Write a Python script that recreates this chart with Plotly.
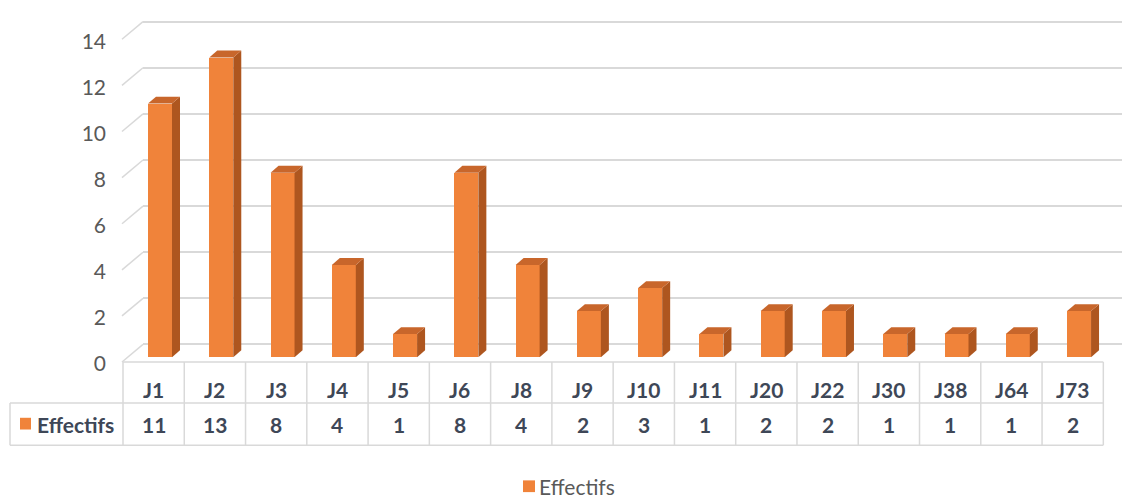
import plotly.graph_objects as go

# ---- data -------------------------------------------------------------
categories = ["J1", "J2", "J3", "J4", "J5", "J6", "J8", "J9", "J10", "J11",
              "J20", "J22", "J30", "J38", "J64", "J73"]
effectifs = [11, 13, 8, 4, 1, 8, 4, 2, 3, 1, 2, 2, 1, 1, 1, 2]
series_name = "Effectifs"
y_ticks = [0, 2, 4, 6, 8, 10, 12, 14]

# ---- geometry (pixels) ------------------------------------------------
W, H = 1122, 501
UNIT = 23.57          # px per unit on the value axis
COL = 61.27           # px per category
BAR_CX0 = 160         # centre of first bar front face
BAR_W_PX = 24
DEPTH_X, DEPTH_Y = 8, 7

FRONT_ZERO, FRONT_LEFT = 363, 123   # front edge of the floor
BAR_ZERO = 358                      # plane in which the bars stand
BACK_ZERO, BACK_LEFT = 345, 143     # back wall

TABLE_MID, TABLE_BOTTOM, HEADER_LEFT = 405, 448, 10
TABLE_RIGHT = FRONT_LEFT + COL * len(categories)

FRONT = "#F0833A"
SIDE = "#AE561F"
TOP = "#C8662B"
GRID = "#D9D9D9"
TEXT = "#3E4757"
TICK = "#595959"
FONT = "Lato, Liberation Sans, sans-serif"


def px(x):
    return x / W


def py(y):
    return 1 - y / H


def ydom(zero, lo, hi):
    return [py(zero - lo * UNIT), py(zero - hi * UNIT)]


n = len(categories)
fig = go.Figure()

# back wall (grid only)
fig.add_trace(go.Scatter(x=[], y=[], xaxis="x", yaxis="y",
                         showlegend=False, hoverinfo="skip"))
# front faces of the columns
fig.add_trace(go.Bar(
    x=list(range(n)), y=effectifs, width=BAR_W_PX / COL,
    marker=dict(color=FRONT, line=dict(width=0)),
    name=series_name, xaxis="x2", yaxis="y2", showlegend=False,
))
# value-axis labels on the front plane
fig.add_trace(go.Scatter(x=[], y=[], xaxis="x2", yaxis="y3",
                         showlegend=False, hoverinfo="skip"))

shapes = []
annotations = []

# side and top faces of each column
hw = BAR_W_PX / COL / 2
dx = DEPTH_X / COL
dy = DEPTH_Y / UNIT
for i, v in enumerate(effectifs):
    shapes.append(dict(
        type="path", xref="x2", yref="y2", layer="above",
        path=f"M{i+hw},0 L{i+hw+dx},{dy} L{i+hw+dx},{v+dy} L{i+hw},{v} Z",
        fillcolor=SIDE, line=dict(width=0),
    ))
    shapes.append(dict(
        type="path", xref="x2", yref="y2", layer="above",
        path=f"M{i-hw},{v} L{i-hw+dx},{v+dy} L{i+hw+dx},{v+dy} L{i+hw},{v} Z",
        fillcolor=TOP, line=dict(width=0),
    ))

# side wall: diagonal lines joining the labels to the back grid
for t in y_ticks:
    shapes.append(dict(
        type="line", xref="paper", yref="paper",
        x0=px(FRONT_LEFT - 1), y0=py(FRONT_ZERO - t * UNIT),
        x1=px(BACK_LEFT), y1=py(BACK_ZERO - t * UNIT),
        line=dict(color=GRID, width=1.5),
    ))

# data table grid
line = dict(color=GRID, width=1.5)
shapes += [
    dict(type="line", xref="paper", yref="paper", x0=px(FRONT_LEFT), x1=px(TABLE_RIGHT),
         y0=py(FRONT_ZERO), y1=py(FRONT_ZERO), line=line),
    dict(type="line", xref="paper", yref="paper", x0=px(HEADER_LEFT), x1=px(TABLE_RIGHT),
         y0=py(TABLE_MID), y1=py(TABLE_MID), line=line),
    dict(type="line", xref="paper", yref="paper", x0=px(HEADER_LEFT), x1=px(TABLE_RIGHT),
         y0=py(TABLE_BOTTOM), y1=py(TABLE_BOTTOM), line=line),
    dict(type="line", xref="paper", yref="paper", x0=px(HEADER_LEFT), x1=px(HEADER_LEFT),
         y0=py(TABLE_MID), y1=py(TABLE_BOTTOM), line=line),
]
for k in range(n + 1):
    xk = FRONT_LEFT + COL * k
    shapes.append(dict(type="line", xref="paper", yref="paper", x0=px(xk), x1=px(xk),
                       y0=py(FRONT_ZERO), y1=py(TABLE_BOTTOM), line=line))

col_offset = (FRONT_LEFT + COL / 2 - BAR_CX0) / COL
cat_y = 391
val_y = (TABLE_MID + TABLE_BOTTOM) / 2
table_font = dict(family=FONT, size=21, color=TEXT)
for i, (c, v) in enumerate(zip(categories, effectifs)):
    annotations.append(dict(x=i + col_offset, y=py(cat_y), xref="x2", yref="paper",
                            xanchor="center", yanchor="middle",
                            text=f"<b>{c}</b>", showarrow=False, font=table_font))
    annotations.append(dict(x=i + col_offset, y=py(val_y), xref="x2", yref="paper",
                            xanchor="center", yanchor="middle",
                            text=f"<b>{v}</b>", showarrow=False, font=table_font))

# row header with its colour key
shapes.append(dict(type="rect", xref="paper", yref="paper",
                   x0=px(20), x1=px(31), y0=py(420), y1=py(432),
                   fillcolor=FRONT, line=dict(width=0)))
annotations.append(dict(x=px(35), y=py(val_y), xref="paper", yref="paper",
                        xanchor="left", yanchor="middle",
                        text=f"<b>{series_name}</b>", showarrow=False, font=table_font))

# legend at the bottom
shapes.append(dict(type="rect", xref="paper", yref="paper",
                   x0=px(523), x1=px(535), y0=py(484), y1=py(496),
                   fillcolor=FRONT, line=dict(width=0)))
annotations.append(dict(x=px(537), y=py(490), xref="paper", yref="paper",
                        xanchor="left", yanchor="middle", text=series_name,
                        showarrow=False, font=dict(family=FONT, size=21, color=TICK)))

fig.update_layout(
    width=W, height=H,
    margin=dict(l=0, r=0, t=0, b=0),
    paper_bgcolor="white", plot_bgcolor="rgba(0,0,0,0)",
    showlegend=False, bargap=0,
    shapes=shapes, annotations=annotations,
    xaxis=dict(domain=[px(BACK_LEFT), 1], range=[0, 1], visible=False, anchor="y"),
    yaxis=dict(domain=ydom(BACK_ZERO, -0.3, 14.3), range=[-0.3, 14.3], anchor="x",
               tickvals=y_ticks, showgrid=True, gridcolor=GRID, gridwidth=1.5,
               showticklabels=False, zeroline=False, ticks="", showline=False),
    xaxis2=dict(domain=[0, 1], range=[-BAR_CX0 / COL, (W - BAR_CX0) / COL],
                visible=False, anchor="y2"),
    yaxis2=dict(domain=ydom(BAR_ZERO, 0, 14.5), range=[0, 14.5], visible=False,
                anchor="x2"),
    yaxis3=dict(domain=ydom(FRONT_ZERO + 2, -0.3, 14.3), range=[-0.3, 14.3],
                anchor="free", position=px(106), side="left",
                tickvals=y_ticks, showgrid=False, zeroline=False, ticks="",
                showline=False, tickfont=dict(family=FONT, size=21, color=TICK)),
)

fig.write_html("out.html")
